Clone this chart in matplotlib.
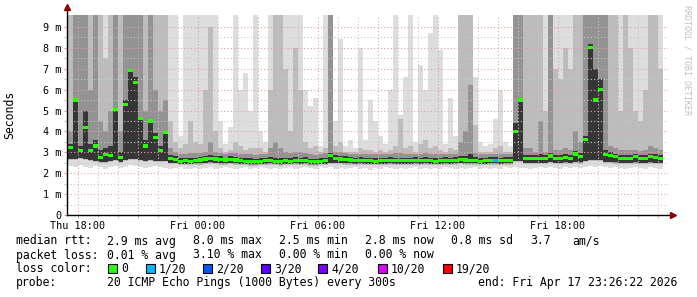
import numpy as np
import matplotlib.pyplot as plt
from matplotlib.patches import Rectangle

plt.rcParams['font.family'] = ['DejaVu Sans Mono']

# time axis: hours since Thu 00:00, one column every 15 minutes
start_hour = 17.5
step_hours = 0.25

# median rtt per column (ms)
median = [3.25, 5.5, 3.1, 4.2, 3.1, 3.3, 2.75, 2.9, 2.85, 5.05, 2.75, 5.3, 6.9, 6.35, 4.6, 3.3, 4.5, 3.7, 3.1, 3.95, 2.7, 2.65, 2.58, 2.6,
          2.58, 2.6, 2.63, 2.68, 2.7, 2.68, 2.65, 2.63, 2.66, 2.63, 2.6, 2.58, 2.57, 2.57, 2.58, 2.6, 2.62, 2.58, 2.56, 2.6, 2.58, 2.62, 2.6, 2.62,
          2.57, 2.55, 2.58, 2.6, 2.85, 2.7, 2.68, 2.65, 2.63, 2.6, 2.62, 2.6, 2.6, 2.58, 2.6, 2.6, 2.62, 2.6, 2.6, 2.6, 2.6, 2.62, 2.6, 2.62,
          2.6, 2.58, 2.6, 2.62, 2.6, 2.62, 2.65, 2.63, 2.6, 2.62, 2.58, 2.6, 2.62, 2.62, 2.6, 2.62, 2.62, 4.0, 5.5, 2.72, 2.7, 2.72, 2.7, 2.72,
          2.82, 2.7, 2.72, 2.75, 2.7, 2.92, 2.8, 3.6, 8.0, 5.5, 6.0, 2.9, 2.85, 2.78, 2.72, 2.72, 2.7, 2.78, 2.72, 2.72, 2.78, 2.75, 2.72]

# lost pings (of 20) per column
loss = [0] * 24 + [0] * 24 + [0] * 24 + \
       [0, 0, 0, 0, 0, 0, 0, 0, 0, 0, 0, 0, 0, 1, 0, 0, 0, 0, 0, 0, 0, 0, 0, 0] + [0] * 23

# smoke: fastest ping, lower edge of the inner bands, tops of the bands (ms)
smoke_min = [2.35, 2.3, 2.4, 2.3, 2.25, 2.35, 2.3, 2.2, 2.3, 2.35, 2.25, 2.3, 2.4, 2.35, 2.3, 2.25, 2.3, 2.35, 2.3, 2.25, 2.2, 2.25, 2.3, 2.2,
             2.2, 2.25, 2.2, 2.25, 2.3, 2.2, 2.25, 2.3, 2.25, 2.2, 2.25, 2.3, 2.2, 2.25, 2.3, 2.25, 2.2, 2.25, 2.2, 2.25, 2.3, 2.2, 2.25, 2.3,
             2.25, 2.2, 2.3, 2.25, 2.3, 2.2, 2.25, 2.2, 2.25, 2.3, 2.2, 2.25, 2.15, 2.25, 2.2, 2.3, 2.25, 2.2, 2.25, 2.2, 2.25, 2.3, 2.2, 2.25,
             2.2, 2.25, 2.2, 2.3, 2.25, 2.2, 2.25, 2.2, 2.25, 2.3, 2.2, 2.25, 2.2, 2.25, 2.2, 2.3, 2.25, 2.3, 2.25, 2.25, 2.2, 2.25, 2.3, 2.25,
             2.3, 2.25, 2.2, 2.3, 2.25, 2.3, 2.25, 2.3, 2.35, 2.3, 2.35, 2.3, 2.25, 2.3, 2.25, 2.2, 2.25, 2.3, 2.25, 2.2, 2.3, 2.25, 2.2]
smoke_low = [2.7, 2.7, 2.75, 2.7, 2.65, 2.6, 2.55, 2.55, 2.6, 2.65, 2.55, 2.65, 2.7, 2.7, 2.65, 2.6, 2.65, 2.6, 2.6, 2.6, 2.5, 2.5, 2.45, 2.45,
             2.45, 2.47, 2.48, 2.5, 2.52, 2.5, 2.48, 2.48, 2.5, 2.48, 2.45, 2.45, 2.44, 2.44, 2.45, 2.46, 2.47, 2.45, 2.43, 2.46, 2.45, 2.47, 2.46, 2.48,
             2.44, 2.42, 2.45, 2.46, 2.5, 2.5, 2.5, 2.48, 2.48, 2.46, 2.47, 2.46, 2.45, 2.45, 2.46, 2.46, 2.47, 2.46, 2.46, 2.45, 2.46, 2.47, 2.46, 2.47,
             2.46, 2.45, 2.46, 2.47, 2.46, 2.47, 2.5, 2.48, 2.47, 2.47, 2.45, 2.46, 2.47, 2.47, 2.46, 2.47, 2.47, 2.6, 2.6, 2.5, 2.5, 2.5, 2.5, 2.5,
             2.55, 2.5, 2.5, 2.52, 2.5, 2.55, 2.52, 2.6, 2.65, 2.65, 2.65, 2.55, 2.55, 2.52, 2.5, 2.5, 2.5, 2.52, 2.5, 2.5, 2.52, 2.5, 2.5]
smoke_core = [3.4, 5.6, 3.3, 5.0, 3.4, 3.6, 3.1, 3.2, 3.3, 5.1, 3.0, 5.5, 7.0, 6.6, 4.7, 3.6, 4.6, 3.9, 3.3, 4.0, 2.85, 2.8, 2.75, 2.75,
              2.72, 2.75, 2.78, 2.82, 2.85, 2.82, 2.8, 2.75, 2.8, 2.78, 2.75, 2.72, 2.72, 2.7, 2.72, 2.74, 2.76, 2.75, 2.72, 2.75, 2.72, 2.77, 2.75, 2.76,
              2.7, 2.7, 2.72, 2.75, 2.95, 2.85, 2.82, 2.8, 2.78, 2.75, 2.76, 2.75, 2.75, 2.72, 2.74, 2.75, 2.76, 2.75, 2.75, 2.75, 2.75, 2.76, 2.75, 2.76,
              2.74, 2.72, 2.74, 2.76, 2.75, 2.76, 2.8, 2.8, 2.9, 2.76, 2.72, 2.74, 2.76, 2.76, 2.75, 2.76, 2.76, 4.4, 5.6, 2.88, 2.85, 2.88, 2.9, 2.86,
              2.95, 2.85, 2.86, 2.9, 2.85, 3.05, 2.95, 3.8, 8.2, 7.0, 6.5, 3.1, 3.0, 2.92, 2.86, 2.86, 2.85, 2.92, 2.86, 2.86, 2.92, 2.9, 2.86]
smoke_p75 = [4.0, 9.6, 9.6, 9.6, 6.0, 9.6, 4.5, 4.0, 5.0, 9.6, 4.0, 9.6, 9.6, 9.6, 9.6, 5.0, 9.6, 6.0, 5.0, 5.5, 3.2, 3.0, 2.9, 2.9,
             2.95, 2.95, 2.95, 3.0, 3.5, 3.0, 2.95, 2.9, 2.95, 2.95, 2.9, 2.9, 2.9, 2.88, 2.9, 2.9, 3.2, 3.5, 3.2, 3.0, 2.95, 3.0, 3.0, 2.95,
             2.9, 2.88, 2.9, 2.95, 9.6, 3.0, 3.0, 2.95, 2.92, 2.9, 2.92, 2.9, 2.9, 2.9, 2.9, 2.9, 2.92, 2.95, 2.95, 2.9, 2.9, 2.92, 2.9, 2.95,
             2.9, 2.9, 2.9, 2.9, 2.9, 2.92, 3.5, 4.0, 6.2, 2.95, 2.9, 2.9, 2.9, 2.92, 2.9, 2.9, 2.9, 9.6, 9.6, 3.2, 3.2, 3.0, 4.5, 3.0,
             9.6, 3.1, 3.1, 3.2, 3.1, 4.0, 3.5, 9.6, 9.6, 9.6, 9.6, 9.6, 3.3, 3.2, 3.1, 3.1, 3.1, 3.1, 3.05, 3.1, 3.3, 3.2, 3.1]
smoke_p90 = [9.6, 9.6, 9.6, 9.6, 9.6, 9.6, 9.6, 7.5, 9.6, 9.6, 9.6, 9.6, 9.6, 9.6, 9.6, 9.6, 9.6, 9.6, 9.6, 9.6, 4.5, 3.5, 3.2, 3.4,
             4.5, 3.5, 3.4, 6.0, 9.0, 4.0, 3.2, 3.0, 3.1, 3.5, 3.3, 3.1, 3.2, 3.2, 3.2, 3.0, 6.0, 9.6, 9.6, 7.0, 4.0, 8.0, 6.0, 3.5,
             3.2, 3.3, 3.0, 3.2, 9.6, 3.3, 3.5, 3.0, 3.0, 3.0, 3.2, 3.1, 3.1, 3.0, 3.1, 3.0, 3.1, 3.3, 4.6, 3.2, 3.3, 3.0, 3.4, 3.6,
             3.2, 3.3, 3.1, 3.0, 3.2, 3.1, 9.6, 9.6, 9.6, 4.3, 3.0, 3.0, 3.0, 3.2, 3.3, 3.0, 3.0, 9.6, 9.6, 9.6, 9.6, 9.6, 9.6, 5.0,
             9.6, 7.0, 6.5, 8.0, 7.0, 9.6, 9.6, 9.6, 9.6, 9.6, 9.6, 9.6, 9.6, 9.6, 5.0, 9.6, 8.0, 5.0, 4.5, 6.0, 9.6, 9.6, 7.0]
smoke_max = [9.6, 9.6, 9.6, 9.6, 9.6, 9.6, 9.6, 9.6, 9.6, 9.6, 9.6, 9.6, 9.6, 9.6, 9.6, 9.6, 9.6, 9.6, 9.6, 9.6, 9.6, 9.6, 3.8, 9.6,
             9.6, 9.6, 9.6, 9.6, 9.6, 9.6, 4.5, 3.4, 4.2, 9.6, 6.0, 6.8, 5.0, 9.6, 4.0, 3.5, 9.6, 9.6, 9.6, 9.6, 9.6, 9.6, 9.6, 6.0,
             5.2, 5.6, 3.3, 9.6, 9.6, 4.5, 8.4, 3.3, 3.6, 3.2, 8.0, 3.6, 5.5, 4.5, 3.8, 3.4, 6.0, 9.6, 4.8, 6.6, 9.6, 3.5, 7.2, 6.0,
             8.7, 9.6, 7.9, 3.4, 5.6, 3.8, 9.6, 9.6, 9.6, 6.6, 3.5, 3.3, 3.4, 4.6, 6.0, 3.5, 3.3, 9.6, 9.6, 9.6, 9.6, 9.6, 9.6, 9.6,
             9.6, 9.6, 9.6, 9.6, 9.6, 9.6, 9.6, 9.6, 9.6, 9.6, 9.6, 9.6, 9.6, 9.6, 9.6, 9.6, 9.6, 9.6, 9.6, 9.6, 9.6, 9.6, 9.6]

# legend texts
rtt_stats = ['2.9 ms avg', '8.0 ms max', '2.5 ms min', '2.8 ms now', '0.8 ms sd', '3.7', 'am/s']
loss_stats = ['0.01 % avg', '3.10 % max', '0.00 % min', '0.00 % now']
loss_labels = ['0', '1/20', '2/20', '3/20', '4/20', '10/20', '19/20']
loss_colors = ['#26ff00', '#00b8ff', '#0059ff', '#5e00ff', '#7e00ff', '#dd00ff', '#ff0000']
probe_text = '20 ICMP Echo Pings (1000 Bytes) every 300s'
end_text = 'end: Fri Apr 17 23:26:22 2026'

x_ticks = [18, 24, 30, 36, 42]
x_labels = ['Thu 18:00', 'Fri 00:00', 'Fri 06:00', 'Fri 12:00', 'Fri 18:00']

W, H = 697, 297
n = len(median)
edges = start_hour + step_hours * np.arange(n + 1)
low = np.array(smoke_low)
med = np.array(median)

fig = plt.figure(figsize=(W / 100, H / 100), dpi=100)
ax = fig.add_axes([67 / W, (H - 215) / H, (668 - 67) / W, (215 - 15) / H])

# smoke bands, light to dark
ax.stairs(smoke_max, edges, baseline=smoke_min, fill=True, color='#dddddd', lw=0, zorder=1)
ax.stairs(smoke_p90, edges, baseline=low - 0.08, fill=True, color='#bcbcbc', lw=0, zorder=1.1)
ax.stairs(smoke_p75, edges, baseline=low - 0.03, fill=True, color='#939393', lw=0, zorder=1.2)
ax.stairs(smoke_core, edges, baseline=low, fill=True, color='#363636', lw=0, zorder=1.3)

# median, coloured by loss
colors = [loss_colors[min(l, 1)] for l in loss]
ax.bar(edges[:-1], 0.15, bottom=med - 0.075, width=step_hours, align='edge',
       color=colors, linewidth=0, zorder=4)

ax.set_xlim(17.45, 47.5)
ax.set_ylim(0, 9.57)

ax.set_xticks(np.arange(18, 47, 3))
ax.set_xticklabels([x_labels[x_ticks.index(t)] if t in x_ticks else '' for t in np.arange(18, 47, 3)])
ax.set_xticks(np.arange(18, 48, 1), minor=True)
ax.set_yticks(np.arange(0, 10))
ax.set_yticklabels(['0'] + ['%d m' % v for v in range(1, 10)])
ax.set_yticks(np.arange(0.5, 9.5, 1), minor=True)

ax.set_axisbelow(False)
ax.grid(which='minor', color='#c8c8c8', linestyle=(0, (1, 2)), linewidth=0.8)
ax.grid(which='major', color='#e4a0a0', linestyle=(0, (1, 2)), linewidth=0.8)
ax.tick_params(which='both', length=2, width=0.8, pad=2, labelsize=7.3, colors='#000000')
ax.tick_params(which='major', color='#e4a0a0')
ax.tick_params(which='minor', color='#c8c8c8')

for s in ax.spines.values():
    s.set_visible(False)

# axes with arrows
ax.plot([17.45, 17.45], [0, 9.9], color='black', lw=1, clip_on=False, zorder=5)
ax.plot([17.45, 47.72], [0, 0], color='black', lw=1, clip_on=False, zorder=5)
ax.plot([17.45], [9.93], marker='^', color='#8b0000', markersize=4, clip_on=False, zorder=6)
ax.plot([47.75], [0], marker='>', color='#8b0000', markersize=4, clip_on=False, zorder=6)

def fx(x):
    return x / W

def fy(y):
    return 1 - y / H

fig.text(fx(10), fy(115), 'Seconds', rotation=90, ha='center', va='center', fontsize=8.3)
fig.text(fx(687), fy(60), 'RRDTOOL / TOBI OETIKER', rotation=270, ha='center', va='center',
         fontsize=6, color='#c0c0c0')

fs = 8.3
# line 1
fig.text(fx(16), fy(244.5), 'median rtt:', fontsize=fs, va='baseline')
for x, t in zip([107, 193, 279, 365, 451, 530, 572], rtt_stats):
    fig.text(fx(x), fy(244.5), t, fontsize=fs, va='baseline')
# line 2
fig.text(fx(16), fy(258.5), 'packet loss:', fontsize=fs, va='baseline')
for x, t in zip([107, 193, 279, 365], loss_stats):
    fig.text(fx(x), fy(258.5), t, fontsize=fs, va='baseline')
# line 3
fig.text(fx(16), fy(272), 'loss color:', fontsize=fs, va='baseline')
for x, lab, c in zip([108, 146, 203, 261, 318, 378, 443], loss_labels, loss_colors):
    fig.add_artist(Rectangle((fx(x), fy(273)), 9 / W, 9 / H, transform=fig.transFigure,
                             facecolor=c, edgecolor='black', linewidth=0.8))
    fig.text(fx(x + 13), fy(272), lab, fontsize=fs, va='baseline')
# line 4
fig.text(fx(16), fy(286), 'probe:', fontsize=fs, va='baseline')
fig.text(fx(107), fy(286), probe_text, fontsize=fs, va='baseline')
fig.text(fx(478), fy(286), end_text, fontsize=fs, va='baseline')

fig.savefig('out.png', dpi=100)
